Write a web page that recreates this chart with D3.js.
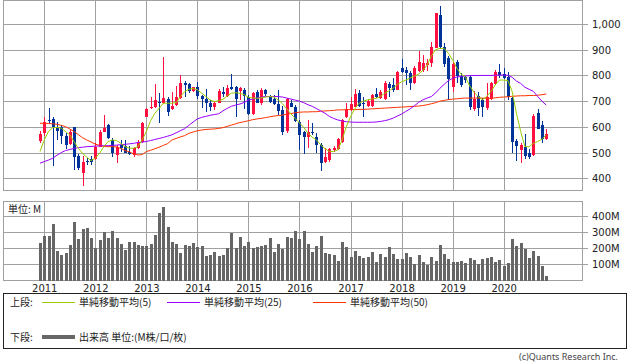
<!DOCTYPE html>
<html><head><meta charset="utf-8">
<script src="https://cdn.jsdelivr.net/npm/d3@7/dist/d3.min.js"></script>
<style>body{margin:0;background:#fff} svg{display:block}</style>
</head><body>
<svg id="c" width="638" height="362"></svg>
<script>
// ---- categories: monthly bars, Dec 2010 .. Nov 2020 ----
const months = [];
for (let y = 2010, m = 12; months.length < 120;) {
  months.push(y + "-" + String(m).padStart(2, "0"));
  m++; if (m > 12) { m = 1; y++; }
}
const yearLabels = ["2011","2012","2013","2014","2015","2016","2017","2018","2019","2020"];
const priceTicks = [400,500,600,700,800,900,1000];
const volumeTicks = [100,200,300,400];

const opens = [547,578,628,631,601,598,565,534,598,488,420,466,475,474,523,582,607,549,491,530,
527,504,491,517,543,640,672,676,698,692,709,670,685,714,769,766,741,754,720,709,
694,679,694,737,720,754,754,741,743,718,650,737,692,743,715,707,689,666,585,694,
679,620,579,562,582,562,530,465,471,510,514,543,637,666,679,731,694,681,681,727,
711,707,767,763,743,828,821,811,769,819,820,841,847,908,1035,912,867,754,854,798,
793,795,669,721,705,672,708,768,812,805,792,712,545,510,523,500,490,653,606,552];
const highs = [585,637,672,640,620,607,575,588,601,495,485,478,485,536,588,646,611,556,530,549,
549,526,523,549,620,672,718,767,731,873,718,737,759,802,780,769,756,776,724,746,
705,702,746,754,763,806,759,754,750,724,737,743,750,746,724,724,743,681,711,705,
685,627,585,627,616,575,536,517,517,526,556,629,694,718,746,743,718,707,727,750,
743,778,776,789,819,864,834,819,838,896,880,863,931,1044,1070,925,876,854,860,808,
798,802,740,734,712,769,776,820,844,830,812,716,552,539,571,513,649,669,623,593];
const lows = [539,565,610,446,549,534,514,530,433,433,372,452,452,471,521,580,552,484,461,504,
497,491,484,513,539,637,668,672,614,689,642,666,681,710,718,731,737,707,672,659,
662,666,692,718,718,743,640,705,668,646,646,692,685,720,692,685,646,569,575,676,
620,510,495,517,569,497,430,459,465,504,510,539,633,663,676,679,640,679,676,711,
707,705,718,737,746,811,763,743,766,815,815,819,834,905,902,834,705,737,769,755,
772,666,662,643,637,665,703,762,790,785,705,500,467,461,474,474,487,591,539,549];
const closes = [571,618,622,601,585,566,530,579,481,439,462,462,465,523,579,597,556,500,523,519,
500,495,517,543,617,668,679,705,694,711,659,681,718,769,763,741,754,720,707,692,
679,694,741,728,750,746,707,750,720,650,733,694,743,728,698,689,663,582,707,679,
624,570,562,582,575,530,459,484,513,519,553,627,668,689,728,681,689,702,724,718,
737,769,750,743,815,815,808,769,828,851,848,850,912,1041,912,843,785,843,798,762,
782,679,708,675,678,718,770,812,800,790,716,541,526,529,487,484,643,593,552,571];

const ma5 = [504,549,582,597,598,595,582,569,543,517,497,482,469,478,497,523,543,549,547,536,
523,517,517,523,549,582,624,653,672,692,692,692,694,718,737,746,750,744,731,718,
705,698,702,707,720,731,733,730,725,715,712,711,713,716,718,716,705,690,670,650,
633,615,598,575,560,549,530,515,505,504,510,549,600,640,670,692,700,705,708,711,
718,730,740,750,765,775,782,790,797,805,820,840,875,900,905,905,886,860,828,805,
795,760,735,718,705,718,737,763,782,782,780,737,653,582,523,523,536,543,552,569];
const ma25 = [459,465,471,478,490,500,508,512,516,519,521,523,524,525,526,527,527,528,529,531,
532,534,536,539,541,543,547,551,555,559,564,569,577,585,593,606,619,631,637,641,
645,648,651,662,672,680,685,689,695,704,708,712,716,718,718,718,718,716,712,708,
704,700,694,686,680,671,662,653,641,633,627,623,620,619,618,618,618,618,618,619,
621,624,628,634,642,650,660,670,682,695,705,712,718,732,750,765,780,789,794,796,
798,799,800,800,800,800,800,801,801,802,800,793,778,769,754,746,738,718,700,685];
const ma50 = [614,614,613,612,610,606,601,592,582,570,558,549,541,533,528,524,523,523,522,516,
508,503,495,491,492,504,509,515,521,528,535,549,555,561,566,575,580,585,588,590,
591,592,594,597,602,607,612,617,620,624,628,631,633,636,639,642,644,646,649,652,
655,657,658,658,659,659,661,662,663,664,666,666,667,667,667,668,668,669,670,671,
672,673,674,675,676,677,678,679,680,681,683,686,690,694,700,703,706,708,709,711,
712,712,712,712,712,711,711,713,715,716,717,719,720,721,721,722,722,723,725,728];

const volumes = [232,273,273,347,181,156,172,218,361,257,318,322,261,201,248,300,261,304,265,224,
187,236,236,218,211,211,224,279,417,452,328,236,224,168,218,211,230,205,211,150,
156,174,150,156,199,291,199,267,211,236,199,205,211,218,261,174,224,193,267,261,
304,259,304,224,177,211,273,168,162,156,121,236,205,146,181,150,140,146,175,115,
162,144,205,162,131,135,168,144,99,160,115,96,144,121,218,162,131,115,113,119,
107,138,125,101,131,138,144,113,125,90,107,255,211,230,193,138,181,150,88,27];

const legendLabels = ["単純移動平均(5)","単純移動平均(25)","単純移動平均(50)"];
const maColors = ["#99cc00","#9900ff","#ff3300"];

// ---- drawing ----
const svg = d3.select("#c");
const L = 3.5, R = 582.5;
const mainTop = 0.5, mainBot = 190.5, volTop = 201.5, volBot = 280.5;
const grid = "#a0a0a0";
const font = "DejaVu Sans, Verdana, sans-serif";
const jfont = "Noto Sans CJK JP, sans-serif";

const x = d3.scalePoint().domain(months).range([40, 546.2]);
const yP = d3.scaleLinear().domain([354.6, 1093.3]).range([190, 0]);
const yV = d3.scaleLinear().domain([0, 487.7]).range([volBot, volTop]);
const px = v => Math.round(v) + 0.5;

// frames
[[mainTop, mainBot], [volTop, volBot]].forEach(([t, b]) => {
  svg.append("rect").attr("x", L).attr("y", t).attr("width", R - L).attr("height", b - t)
    .attr("fill", "none").attr("stroke", grid);
});

// price axis with grid
const pAxis = svg.append("g").attr("transform", `translate(588,0)`)
  .call(d3.axisRight(yP).tickValues(priceTicks).tickSize(-(588 - L)).tickPadding(4).tickFormat(d3.format(",")));
pAxis.select(".domain").remove();
pAxis.selectAll("line").attr("stroke", grid).attr("shape-rendering", "crispEdges");
pAxis.selectAll("text").attr("font-family", font).attr("font-size", 10).attr("fill", "#222");
pAxis.selectAll(".tick").attr("transform", d => `translate(0,${px(yP(d))})`);

// volume axis with grid
const vAxis = svg.append("g").attr("transform", `translate(588,0)`)
  .call(d3.axisRight(yV).tickValues(volumeTicks).tickSize(-(588 - L)).tickPadding(4).tickFormat(d => d + "M"));
vAxis.select(".domain").remove();
vAxis.selectAll("line").attr("stroke", grid).attr("shape-rendering", "crispEdges");
vAxis.selectAll("text").attr("font-family", font).attr("font-size", 10).attr("fill", "#222");
vAxis.selectAll(".tick").attr("transform", d => `translate(0,${px(yV(d))})`);

// vertical year gridlines
const yearMonths = yearLabels.map(y => y + "-01");
yearMonths.forEach(m => {
  [[mainTop, mainBot], [volTop, volBot]].forEach(([t, b]) => {
    svg.append("line").attr("x1", px(x(m))).attr("x2", px(x(m))).attr("y1", t).attr("y2", b)
      .attr("stroke", grid).attr("shape-rendering", "crispEdges");
  });
});

// year axis labels
const xAxis = svg.append("g").attr("transform", `translate(0,${volBot})`)
  .call(d3.axisBottom(x).tickValues(yearMonths).tickSize(0).tickPadding(4)
    .tickFormat((d, i) => yearLabels[i]));
xAxis.select(".domain").remove();
xAxis.selectAll("text").attr("font-family", font).attr("font-size", 10).attr("fill", "#222");

// candles
const up = "#ff1040", down = "#003399";
const cg = svg.append("g").attr("shape-rendering", "crispEdges");
months.forEach((m, i) => {
  const cx = Math.round(x(m));
  const col = closes[i] >= opens[i] ? up : down;
  cg.append("line").attr("x1", cx + 0.5).attr("x2", cx + 0.5)
    .attr("y1", yP(highs[i])).attr("y2", yP(lows[i])).attr("stroke", col);
  const top = yP(Math.max(opens[i], closes[i])), bot = yP(Math.min(opens[i], closes[i]));
  cg.append("rect").attr("x", cx - 1).attr("width", 3)
    .attr("y", top).attr("height", Math.max(1, bot - top)).attr("fill", col);
});

// moving averages
const line = d3.line().x((d, i) => x(months[i])).y(d => yP(d));
[ma50, ma25, ma5].forEach((arr, k) => {
  svg.append("path").datum(arr).attr("d", line).attr("fill", "none")
    .attr("stroke", maColors[2 - k]).attr("stroke-width", 1);
});

// volume bars
svg.append("g").attr("shape-rendering", "crispEdges").selectAll("rect").data(volumes).join("rect")
  .attr("x", (d, i) => Math.round(x(months[i])) - 1).attr("width", 3)
  .attr("y", d => yV(d)).attr("height", d => volBot - yV(d)).attr("fill", "#666");

svg.append("text").attr("x", 8).attr("y", 213).attr("font-family", jfont).attr("font-size", 10)
  .attr("fill", "#222").text("単位: M");

// legend
svg.append("rect").attr("x", 3.5).attr("y", 293.5).attr("width", 623).attr("height", 55)
  .attr("fill", "none").attr("stroke", "#222");
const lg = svg.append("g").attr("font-family", jfont).attr("font-size", 10).attr("fill", "#222");
lg.append("text").attr("x", 10).attr("y", 306).text("上段:");
const legX = [42, 167, 313];
legendLabels.forEach((t, i) => {
  lg.append("line").attr("x1", legX[i]).attr("x2", legX[i] + 33).attr("y1", 302.5).attr("y2", 302.5)
    .attr("stroke", maColors[i]);
  lg.append("text").attr("x", legX[i] + 37).attr("y", 306).text(t);
});
lg.append("text").attr("x", 10).attr("y", 341).text("下段:");
lg.append("line").attr("x1", 42).attr("x2", 75).attr("y1", 337).attr("y2", 337)
  .attr("stroke", "#666").attr("stroke-width", 4);
lg.append("text").attr("x", 79).attr("y", 341).text("出来高 単位:(M株/口/枚)");

svg.append("text").attr("x", 618).attr("y", 360).attr("text-anchor", "end")
  .attr("font-family", "Noto Sans, sans-serif").attr("font-size", 9).attr("fill", "#444")
  .text("(c)Quants Research Inc.");
</script>
</body></html>
